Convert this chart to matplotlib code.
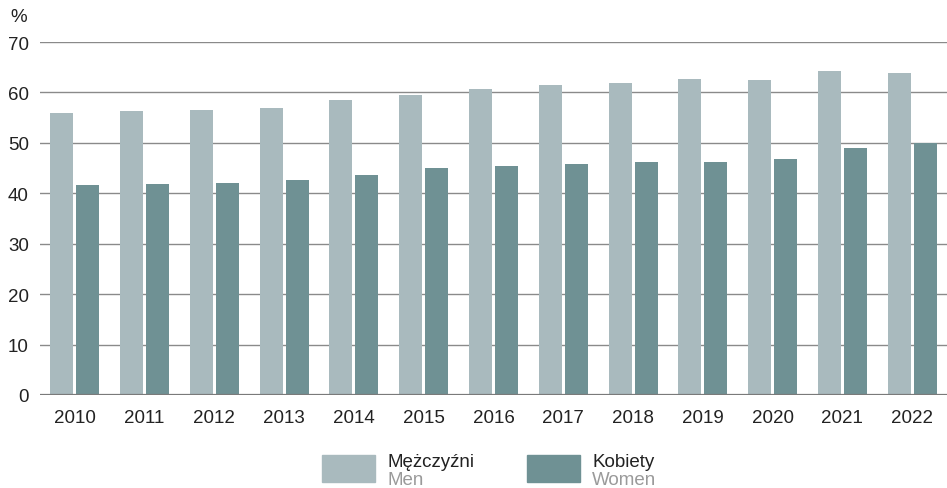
import matplotlib
matplotlib.use("Agg")
import matplotlib.pyplot as plt
from matplotlib.patches import Rectangle
import numpy as np

plt.rcParams['font.family'] = ['Liberation Sans', 'DejaVu Sans']

years = ["2010", "2011", "2012", "2013", "2014", "2015", "2016", "2017", "2018", "2019", "2020", "2021", "2022"]
men = [56.0, 56.3, 56.5, 56.9, 58.5, 59.5, 60.7, 61.5, 61.9, 62.7, 62.5, 64.3, 63.9]
women = [41.7, 41.9, 42.1, 42.7, 43.6, 45.0, 45.4, 45.8, 46.2, 46.2, 46.8, 49.0, 49.9]
yticks = [0, 10, 20, 30, 40, 50, 60, 70]

c_men = "#a9babe"
c_women = "#6f9194"

W, H = 947, 489
fig = plt.figure(figsize=(W / 100, H / 100), dpi=100)
ax = fig.add_axes([40 / W, 1 - 396 / H, (W - 40) / W, (396 - 43) / H])

x = np.arange(len(years))
bw = 0.33
off = 0.186
ax.bar(x - off, men, width=bw, color=c_men, zorder=2)
ax.bar(x + off, women, width=bw, color=c_women, zorder=2)

ax.set_xlim(-0.5, len(years) - 0.5)
ax.set_ylim(0, 70)
ax.set_yticks(yticks)
ax.set_yticklabels([str(v) for v in yticks])
ax.set_xticks(x)
ax.set_xticklabels(years)
for v in yticks[1:]:
    ax.axhline(v, color="#8a8a8a", lw=1.0, zorder=1)
ax.axhline(0, color="#7a7a7a", lw=1.6, zorder=3)

for s in ax.spines.values():
    s.set_visible(False)
ax.tick_params(axis='both', length=0, labelsize=13.5, colors="#222222")
ax.tick_params(axis='y', pad=8)
ax.tick_params(axis='x', pad=10)

fig.text(10 / W, 1 - 18 / H, "%", fontsize=13.5, color="#222222", va="center", ha="left")

# legend
items = [(c_men, "Mężczyźni", "Men", 322), (c_women, "Kobiety", "Women", 527)]
for col, pl, en, px in items:
    fig.patches.append(Rectangle((px / W, 1 - 483 / H), 53 / W, 27 / H,
                                 transform=fig.transFigure, color=col))
    fig.text((px + 65) / W, 1 - 463 / H, pl, fontsize=13.5, color="#222222", va="center", ha="left")
    fig.text((px + 65) / W, 1 - 481 / H, en, fontsize=13.5, color="#9a9a9a", va="center", ha="left")

fig.savefig("out.png", dpi=100)
